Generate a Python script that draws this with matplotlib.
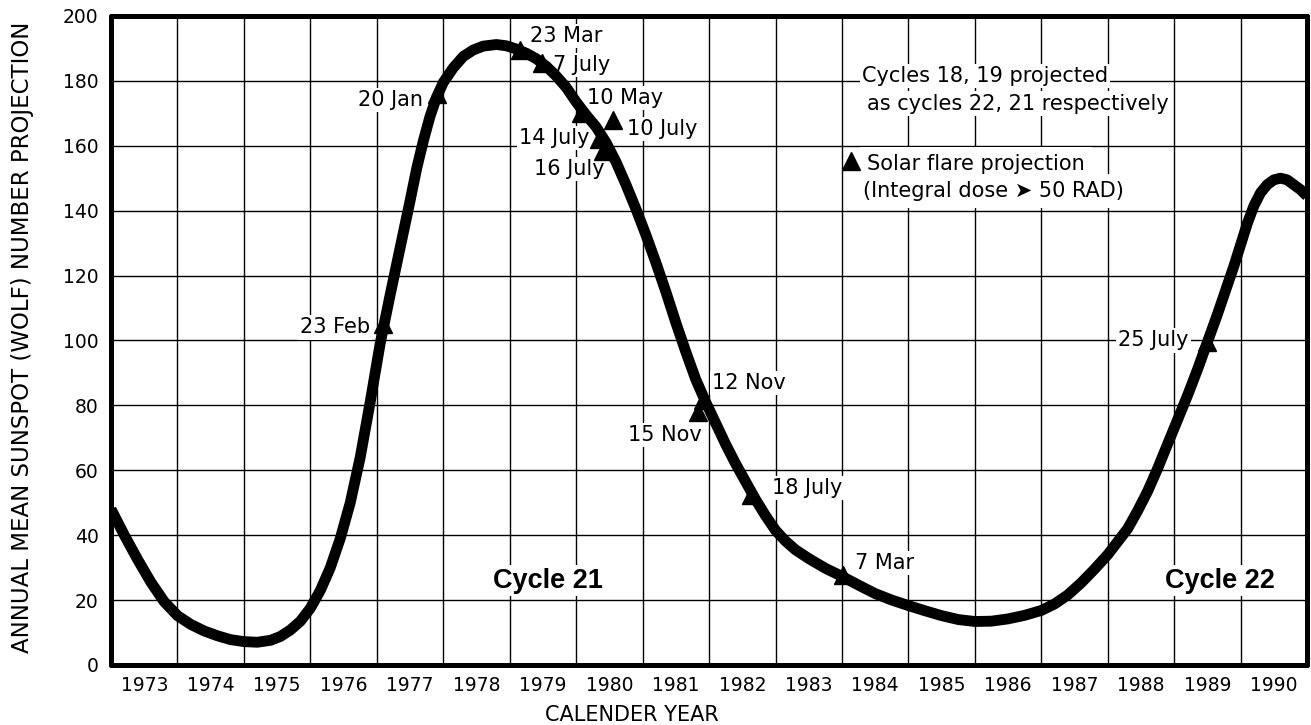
import matplotlib
matplotlib.use('Agg')
import matplotlib.pyplot as plt
from matplotlib.ticker import FixedLocator

plt.rcParams['font.family'] = ['DejaVu Sans']

# Projected annual mean sunspot number (cycles 21 and 22)
years = [1973.0, 1973.2, 1973.4, 1973.6, 1973.8, 1974.0, 1974.2, 1974.4,
         1974.6, 1974.8, 1975.0, 1975.2, 1975.4, 1975.55, 1975.7, 1975.85,
         1976.0, 1976.15, 1976.3, 1976.45, 1976.6, 1976.75, 1976.9, 1977.05,
         1977.2, 1977.35, 1977.5, 1977.6, 1977.7, 1977.8, 1977.9, 1978.0,
         1978.15, 1978.3, 1978.45, 1978.6, 1978.8, 1978.95, 1979.1, 1979.25,
         1979.4, 1979.55, 1979.7, 1979.85, 1980.0, 1980.15, 1980.3, 1980.45,
         1980.6, 1980.75, 1980.9, 1981.05, 1981.2, 1981.35, 1981.5, 1981.65,
         1981.8, 1981.95, 1982.1, 1982.25, 1982.4, 1982.55, 1982.7, 1982.85,
         1983.0, 1983.15, 1983.3, 1983.5, 1983.75, 1984.0, 1984.25, 1984.5,
         1984.75, 1985.0, 1985.25, 1985.5, 1985.75, 1986.0, 1986.25, 1986.5,
         1986.75, 1987.0, 1987.2, 1987.4, 1987.6, 1987.8, 1988.0, 1988.15,
         1988.3, 1988.45, 1988.6, 1988.75, 1988.9, 1989.05, 1989.2, 1989.35,
         1989.5, 1989.65, 1989.8, 1989.9, 1990.0, 1990.1, 1990.2, 1990.3,
         1990.4, 1990.5, 1990.6, 1990.7, 1990.8, 1990.9, 1991.0]
sunspots = [48, 40, 32.5, 25.5, 19.5, 15.2, 12.5, 10.5,
            9, 7.8, 7.2, 7, 7.6, 8.8, 10.8, 13.5,
            17.5, 23, 30, 39, 50, 64, 81, 99,
            114, 128.5, 143, 153, 161.5, 169, 175, 179.5,
            184, 187.5, 189.5, 190.7, 191.2, 190.8, 189.8, 188.5,
            186.8, 184.5, 181.5, 178, 173.5, 169.5, 165.8, 161,
            155, 148, 140.5, 132.5, 124, 115, 105.5, 96.5,
            88, 81, 74.5, 68, 62, 56.5, 51, 46,
            41.5, 38.2, 35.5, 32.8, 29.8, 27.3, 24.6, 22,
            20, 18.3, 16.7, 15.2, 14, 13.4, 13.5, 14.2,
            15.3, 16.8, 18.8, 21.6, 25.3, 29.5, 34, 38,
            42, 47.5, 53.5, 60.5, 68, 75.5, 83, 91,
            99.5, 108, 117, 123, 129.5, 136, 141.5, 145.5,
            148, 149.5, 150, 149.5, 148, 146.5, 144.5]

# Solar flare projections (integral dose > 50 RAD)
flare_labels = ['23 Feb', '20 Jan', '23 Mar', '7 July', '10 May', '10 July',
                '14 July', '16 July', '12 Nov', '15 Nov', '18 July', '7 Mar',
                '25 July']
flare_x = [1977.1, 1977.9, 1979.15, 1979.48, 1980.08, 1980.55,
           1980.35, 1980.4, 1981.91, 1981.83, 1982.63, 1984.01, 1989.5]
flare_y = [105, 176, 189.5, 185.5, 170, 168,
           162, 158.5, 81.5, 78, 52.5, 27.7, 99.5]

year_labels = [str(y) for y in range(1973, 1991)]
y_ticks = list(range(0, 201, 20))

# label anchor: (x, y, horizontal alignment) for each flare note
label_pos = [(1976.9, 104, 'right'), (1977.69, 174, 'right'),
             (1979.3, 193.8, 'left'), (1979.65, 185, 'left'),
             (1980.17, 174.8, 'left'), (1980.76, 165.2, 'left'),
             (1980.2, 162.5, 'right'), (1980.43, 152.9, 'right'),
             (1982.05, 87, 'left'), (1981.89, 70.8, 'right'),
             (1982.94, 54.5, 'left'), (1984.19, 31.4, 'left'),
             (1989.22, 100, 'right')]

fig = plt.figure(figsize=(13.11, 7.25), dpi=100)
ax = fig.add_axes([0.0847, 0.0828, 0.9123, 0.8952])

ax.set_xlim(1973, 1991)
ax.set_ylim(0, 200)

# grid on year boundaries, year names centred in each column
ax.xaxis.set_major_locator(FixedLocator(range(1974, 1991)))
ax.xaxis.set_minor_locator(FixedLocator([y + 0.5 for y in range(1973, 1991)]))
ax.set_xticklabels([], minor=False)
ax.set_xticklabels(year_labels, minor=True)
ax.set_yticks(y_ticks)
ax.set_yticklabels([str(v) for v in y_ticks])
ax.tick_params(axis='both', which='both', length=0, labelsize=13.5)
ax.tick_params(axis='x', which='minor', pad=8)
ax.tick_params(axis='y', pad=9)
ax.grid(True, which='major', color='black', linewidth=1.0)
ax.set_axisbelow(True)

for s in ax.spines.values():
    s.set_linewidth(3.6)
    s.set_capstyle('round')

ax.plot(years, sunspots, color='black', linewidth=7.8,
        solid_capstyle='butt', solid_joinstyle='round', zorder=3)
ax.plot(flare_x, flare_y, linestyle='none', marker='^', markersize=13,
        color='black', zorder=4)

box = dict(facecolor='white', edgecolor='none', pad=1.5)
for lab, (tx, ty, ha) in zip(flare_labels, label_pos):
    ax.text(tx, ty, lab, ha=ha, va='center', fontsize=15, bbox=box, zorder=2.5)

ax.text(1984.3, 181.5, 'Cycles 18, 19 projected', ha='left', va='center',
        fontsize=15, bbox=box, zorder=2.5)
ax.text(1984.38, 173, 'as cycles 22, 21 respectively', ha='left', va='center',
        fontsize=15, bbox=box, zorder=2.5)

# flare key
key_box = dict(facecolor='white', edgecolor='none', pad=5)
ax.text(1984.38, 154.5, 'Solar flare projection', ha='left', va='center',
        fontsize=15, bbox=key_box, zorder=2.5)
ax.text(1984.31, 146, '(Integral dose \u27a4 50 RAD)', ha='left', va='center',
        fontsize=15, bbox=key_box, zorder=2.5)
ax.plot([1984.14], [155.4], linestyle='none', marker='^', markersize=13,
        color='black', zorder=4)

ax.text(1979.57, 26, 'Cycle 21', ha='center', va='center', fontsize=19.5,
        fontweight='bold', family='Liberation Sans', bbox=box, zorder=2.5)
ax.text(1989.69, 26, 'Cycle 22', ha='center', va='center', fontsize=19.5,
        fontweight='bold', family='Liberation Sans', bbox=box, zorder=2.5)

fig.text(0.017, 0.535, 'ANNUAL MEAN SUNSPOT (WOLF) NUMBER PROJECTION',
         rotation=90, ha='center', va='center', fontsize=16.5)
fig.text(0.482, 0.014, 'CALENDER YEAR', ha='center', va='center', fontsize=15)

fig.savefig('out.png', dpi=100)
